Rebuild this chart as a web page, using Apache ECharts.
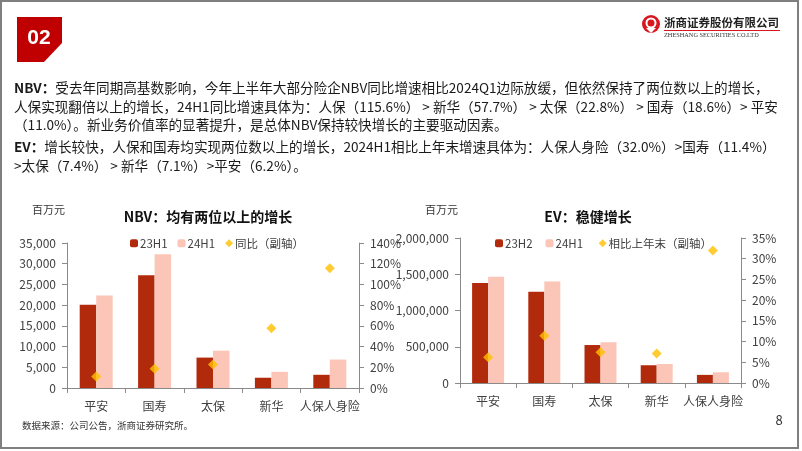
<!DOCTYPE html>
<html><head><meta charset="utf-8">
<script src="https://cdn.jsdelivr.net/npm/echarts@6/dist/echarts.min.js"></script>
<style>html,body{margin:0;padding:0;background:#fff;}#c{width:802px;height:451px;}</style>
</head><body><div id="c"></div>
<script>
const categories = ['平安', '国寿', '太保', '新华', '人保人身险'];
const nbv23H1 = [20100, 27200, 7340, 2477, 3186];
const nbv24H1 = [22318, 32300, 9014, 3906, 6869];
const nbvYoy = [11.0, 18.6, 22.8, 57.7, 115.6];
const ev23H2 = [1380000, 1257968, 523710, 245000, 112000];
const ev24H1 = [1465000, 1401368, 562392, 262400, 147800];
const evGrowth = [6.2, 11.4, 7.4, 7.1, 32.0];

const paraLines = [
  '{b|NBV：}受去年同期高基数影响，今年上半年大部分险企NBV同比增速相比2024Q1边际放缓，但依然保持了两位数以上的增长，',
  '人保实现翻倍以上的增长，24H1同比增速具体为：人保（115.6%） > 新华（57.7%） > 太保（22.8%） > 国寿（18.6%）> 平安',
  '（11.0%）。新业务价值率的显著提升，是总体NBV保持较快增长的主要驱动因素。'
];
const paraLines2 = [
  '{b|EV：}增长较快，人保和国寿均实现两位数以上的增长，2024H1相比上年末增速具体为：人保人身险（32.0%）>国寿（11.4%）',
  '>太保（7.4%） > 新华（7.1%）>平安（6.2%）。'
];

const DARK = '#B22A0C', LIGHT = '#FBC6B8', GOLD = '#FFC000';
const AX = '#8a8a8a', LBL = '#404040';
const FONT = '"Noto Sans CJK SC", sans-serif';

const chart = echarts.init(document.getElementById('c'), null, {renderer: 'canvas'});

function thousands(v) { return String(v).replace(/\B(?=(\d{3})+(?!\d))/g, ','); }

function valAxis(gi, min, max, interval, fmt, pos) {
  return {
    type: 'value', gridIndex: gi, position: pos, min: min, max: max, interval: interval,
    axisLine: {show: true, lineStyle: {color: AX, width: 1}},
    axisTick: {show: true, length: 5, lineStyle: {color: AX}},
    splitLine: {show: false},
    axisLabel: {color: LBL, fontSize: 12, fontFamily: FONT, margin: 11, formatter: fmt}
  };
}

const legendText = {fontSize: 11.5, color: LBL, fontFamily: FONT, padding: [0, 0, 0, -3]};

const option = {
  animation: false,
  backgroundColor: '#fff',
  textStyle: {fontFamily: FONT},
  grid: [
    {left: 67, right: 443, top: 243, bottom: 63},
    {left: 460, right: 61, top: 238, bottom: 68}
  ],
  legend: [
    {data: ['23H1', '24H1', '同比（副轴）'], left: 130, top: 237.5, padding: 0, itemWidth: 8, itemHeight: 8, itemGap: 10,
     textStyle: legendText},
    {data: ['23H2', '24H1 ', '相比上年末（副轴）'], left: 495, top: 237.5, padding: 0, itemWidth: 8, itemHeight: 8, itemGap: 13,
     textStyle: legendText}
  ],
  xAxis: [0, 1].map(gi => ({
    type: 'category', gridIndex: gi, data: categories,
    axisLine: {lineStyle: {color: AX}},
    axisTick: {show: true, length: 5, lineStyle: {color: AX}},
    axisLabel: {color: LBL, fontSize: 12, fontFamily: FONT, margin: 12, interval: 0}
  })),
  yAxis: [
    valAxis(0, 0, 35000, 5000, v => thousands(v), 'left'),
    valAxis(0, 0, 140, 20, '{value}%', 'right'),
    valAxis(1, 0, 2000000, 500000, v => thousands(v), 'left'),
    valAxis(1, 0, 35, 5, '{value}%', 'right')
  ],
  series: [
    {name: '23H1', type: 'bar', xAxisIndex: 0, yAxisIndex: 0, data: nbv23H1, barWidth: 16.5, barGap: '0%', itemStyle: {color: DARK}},
    {name: '24H1', type: 'bar', xAxisIndex: 0, yAxisIndex: 0, data: nbv24H1, barWidth: 16.5, barGap: '0%', itemStyle: {color: LIGHT}},
    {name: '同比（副轴）', type: 'scatter', xAxisIndex: 0, yAxisIndex: 1, data: nbvYoy, symbol: 'diamond', symbolSize: 10, itemStyle: {color: GOLD}, z: 5},
    {name: '23H2', type: 'bar', xAxisIndex: 1, yAxisIndex: 2, data: ev23H2, barWidth: 16, barGap: '0%', itemStyle: {color: DARK}},
    {name: '24H1 ', type: 'bar', xAxisIndex: 1, yAxisIndex: 2, data: ev24H1, barWidth: 16, barGap: '0%', itemStyle: {color: LIGHT}},
    {name: '相比上年末（副轴）', type: 'scatter', xAxisIndex: 1, yAxisIndex: 3, data: evGrowth, symbol: 'diamond', symbolSize: 10, itemStyle: {color: GOLD}, z: 5}
  ],
  graphic: [
    {type: 'rect', shape: {x: 1, y: 1, width: 797, height: 447}, style: {fill: 'none', stroke: '#7f7f7f', lineWidth: 2}, silent: true},
    {type: 'polygon', shape: {points: [[17, 17], [62, 17], [62, 43], [44, 62], [17, 62]]}, style: {fill: '#C00000'}},
    {type: 'text', x: 39, y: 38, style: {text: '02', fill: '#fff', font: 'bold 21px "Liberation Sans", Arial, sans-serif', textAlign: 'center', textVerticalAlign: 'middle'}},
    {type: 'circle', shape: {cx: 651, cy: 24, r: 9}, style: {fill: '#D7171F'}},
    {type: 'circle', shape: {cx: 651, cy: 23, r: 4.5}, style: {fill: 'none', stroke: '#fff', lineWidth: 2}},
    {type: 'polygon', shape: {points: [[646, 28], [651, 33], [656, 28]]}, style: {fill: '#fff'}},
    {type: 'text', x: 664, y: 23, style: {text: '浙商证券股份有限公司', fill: '#222', font: 'bold 11.5px "Noto Sans CJK SC"', textVerticalAlign: 'middle'}},
    {type: 'line', shape: {x1: 664, y1: 30.5, x2: 780, y2: 30.5}, style: {stroke: '#D7171F', lineWidth: 1}},
    {type: 'text', x: 664, y: 35.5, style: {text: 'ZHESHANG SECURITIES CO.LTD', fill: '#333', font: '6.3px "Liberation Serif", serif', textVerticalAlign: 'middle'}},
    {type: 'text', x: 14, y: 79, style: {
      text: paraLines.join('\n'), fill: '#1a1a1a', font: '13.6px "Noto Sans CJK SC"', lineHeight: 18.5,
      rich: {b: {fontWeight: 'bold', fontSize: 13.6, fontFamily: 'Noto Sans CJK SC', fill: '#1a1a1a', lineHeight: 18.5}}
    }},
    {type: 'text', x: 14, y: 137, style: {
      text: paraLines2.join('\n'), fill: '#1a1a1a', font: '13.6px "Noto Sans CJK SC"', lineHeight: 19.5,
      rich: {b: {fontWeight: 'bold', fontSize: 13.6, fontFamily: 'Noto Sans CJK SC', fill: '#1a1a1a', lineHeight: 19.5}}
    }},
    {type: 'text', x: 32, y: 210, style: {text: '百万元', fill: '#333', font: '11px "Noto Sans CJK SC"', textVerticalAlign: 'middle'}},
    {type: 'text', x: 208, y: 217, style: {text: 'NBV：均有两位以上的增长', fill: '#111', font: 'bold 14px "Noto Sans CJK SC"', textAlign: 'center', textVerticalAlign: 'middle'}},
    {type: 'text', x: 425, y: 210, style: {text: '百万元', fill: '#333', font: '11px "Noto Sans CJK SC"', textVerticalAlign: 'middle'}},
    {type: 'text', x: 588, y: 217, style: {text: 'EV：稳健增长', fill: '#111', font: 'bold 14px "Noto Sans CJK SC"', textAlign: 'center', textVerticalAlign: 'middle'}},
    {type: 'text', x: 22, y: 425, style: {text: '数据来源：公司公告，浙商证券研究所。', fill: '#333', font: '9.5px "Noto Sans CJK SC"', textVerticalAlign: 'middle'}},
    {type: 'text', x: 779, y: 420, style: {text: '8', fill: '#333', font: '13px "Noto Sans CJK SC"', textAlign: 'center', textVerticalAlign: 'middle'}}
  ]
};
chart.setOption(option);
</script></body></html>
